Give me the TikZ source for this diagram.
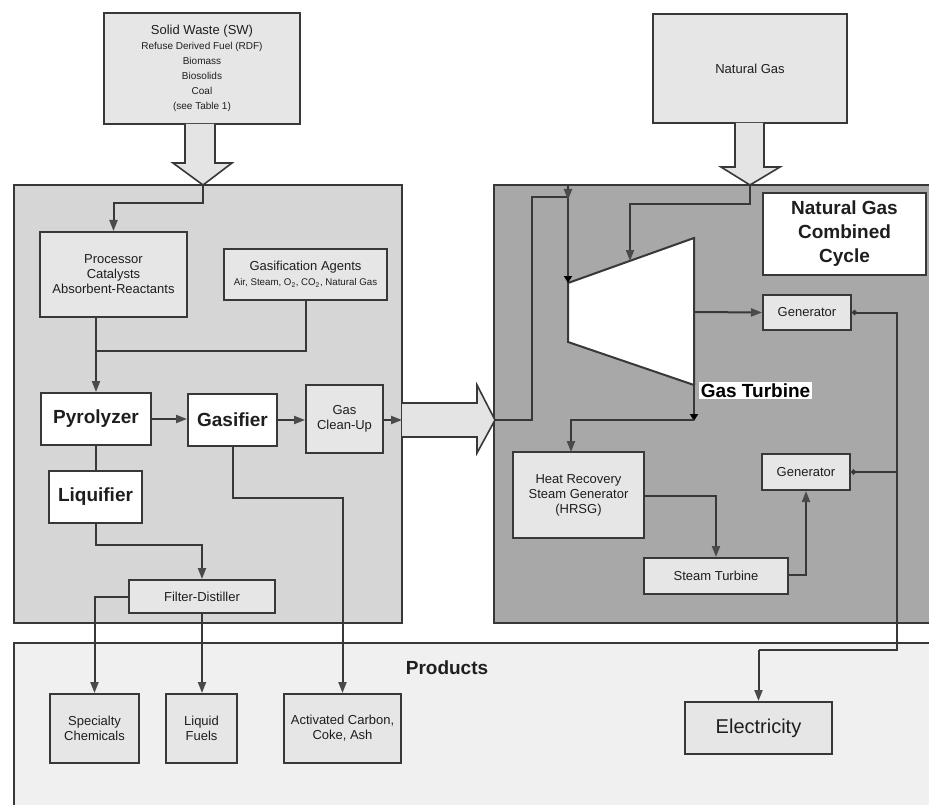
\documentclass[tikz,border=0pt]{standalone}
\usepackage{fontspec}
\setmainfont{Liberation Sans}
\usetikzlibrary{arrows.meta}
\definecolor{linec}{HTML}{383838}
\definecolor{tipc}{HTML}{4A4A4A}
\definecolor{boxfill}{HTML}{E6E6E6}
\definecolor{leftfill}{HTML}{D6D6D6}
\definecolor{ngccfill}{HTML}{A8A8A8}
\definecolor{prodfill}{HTML}{F0F0F0}
\definecolor{hollowfill}{HTML}{E4E4E4}
\definecolor{txt}{HTML}{1E1E1E}
\begin{document}
\begin{tikzpicture}[x=1pt,y=-1pt,
  area/.style={draw=linec, line width=2pt},
  box/.style={draw=linec, line width=2pt, fill=boxfill, align=center, inner sep=1pt, text=txt,
    font=\fontsize{13}{15}\selectfont},
  wbox/.style={box, fill=white, font=\fontsize{19}{22}\selectfont\bfseries},
  plainline/.style={draw=linec, line width=2pt},
  conn/.style={plainline, -{Triangle[length=11pt,width=8pt,color=tipc]}},
  bconn/.style={plainline, -{Triangle[length=7pt,width=8pt,color=black]}},
  hollow/.style={draw=linec, line width=1.6pt, fill=hollowfill, line join=miter},
  gconn/.style={plainline, {Circle[open,length=5pt,width=5pt]}-},
]
\useasboundingbox (0,0) rectangle (929,805);
\clip (0,0) rectangle (929,805);
\fill[white] (0,0) rectangle (929,805);

% large areas
\node[area, fill=leftfill, minimum width=388pt, minimum height=438pt, inner sep=0pt] (left) at (208,404) {};
\node[area, fill=ngccfill, minimum width=446pt, minimum height=438pt, inner sep=0pt] (ngcc) at (717,404) {};
\node[area, fill=prodfill, minimum width=927pt, minimum height=180pt, inner sep=0pt] (prod) at (477.5,733) {};

% input boxes
\node[box, minimum width=196pt, minimum height=111pt] (sw) at (202,68.5)
  {{\fontsize{13}{14.5}\selectfont Solid Waste (SW)}\\
   {\fontsize{10}{13.5}\selectfont Refuse Derived Fuel (RDF)}\\
   {\fontsize{10}{13.5}\selectfont Biomass}\\
   {\fontsize{10}{13.5}\selectfont Biosolids}\\
   {\fontsize{10}{13.5}\selectfont Coal}\\
   {\fontsize{10}{13.5}\selectfont (see Table 1)}};
\node[box, minimum width=194pt, minimum height=109pt] (ng) at (750,68.5) {Natural Gas};

% hollow arrows
\draw[hollow] (185,124) -- (185,163) -- (173,163) -- (203,185) -- (232,163) -- (215,163) -- (215,124);
\coordinate (swtip) at (203,185);
\draw[hollow] (735,123) -- (735,167) -- (721,167) -- (750,185) -- (780,167) -- (764,167) -- (764,123);
\coordinate (ngtip) at (750,185);
\draw[hollow] (402,403) -- (477,403) -- (477,385) -- (495,420) -- (477,453) -- (477,437) -- (402,437);
\coordinate (bigtail) at (402,420);
\coordinate (bigtip) at (495,420);

% left process boxes
\node[box, minimum width=147pt, minimum height=85pt] (proc) at (113.5,274.5)
  {Processor\\Catalysts\\Absorbent-Reactants};
\node[box, minimum width=163pt, minimum height=51pt] (agents) at (305.5,274.5)
  {Gasification Agents\\{\fontsize{9.7}{12}\selectfont Air, Steam, O\textsubscript{2}, CO\textsubscript{2}, Natural Gas}};
\node[wbox, minimum width=110pt, minimum height=52pt] (pyro) at (96,419) {Pyrolyzer};
\node[wbox, minimum width=89pt, minimum height=52pt] (gasif) at (232.5,420) {Gasifier};
\node[box, minimum width=77pt, minimum height=68pt] (clean) at (344.5,419) {Gas\\Clean-Up};
\node[wbox, minimum width=93pt, minimum height=52pt] (liq) at (95.5,497) {Liquifier};
\node[box, minimum width=146pt, minimum height=33pt] (filt) at (202,596.5) {Filter-Distiller};

% products
\node[font=\fontsize{19}{21}\selectfont\bfseries, text=txt] (prodlabel) at (447,668) {Products};
\node[box, minimum width=89pt, minimum height=69pt] (spec) at (94.5,728.5) {Specialty\\Chemicals};
\node[box, minimum width=71pt, minimum height=69pt] (fuels) at (201.5,728.5) {Liquid\\Fuels};
\node[box, minimum width=117pt, minimum height=69pt] (carbon) at (342.5,728.5) {Activated Carbon,\\Coke, Ash};
\node[box, minimum width=147pt, minimum height=52pt, font=\fontsize{20}{22}\selectfont] (elec) at (758.5,728) {Electricity};

% NGCC content
\node[wbox, minimum width=163pt, minimum height=82pt, font=\fontsize{19}{24}\selectfont\bfseries] (ngcclabel) at (844.5,234)
  {Natural Gas\\Combined\\Cycle};
\draw[draw=linec, line width=2pt, fill=white, line join=miter]
  (568,283) coordinate (tin) -- (694,238) coordinate (ttr) -- (694,385) coordinate (tout) -- (568,342) -- cycle;
\coordinate (tngin) at (630,261);
\coordinate (tshaft) at (694,312);
\node[fill=white, inner sep=2pt, font=\fontsize{19}{21}\selectfont\bfseries, text=black] (gtlabel) at (755.5,390.5) {Gas Turbine};
\node[box, minimum width=88pt, minimum height=35pt] (gen1) at (807,312.5) {Generator};
\node[box, minimum width=88pt, minimum height=36pt] (gen2) at (806,472) {Generator};
\node[box, minimum width=131pt, minimum height=86pt] (hrsg) at (578.5,495)
  {Heat Recovery\\Steam Generator\\(HRSG)};
\node[box, minimum width=144pt, minimum height=36pt] (steam) at (716,576) {Steam Turbine};

% connectors: left side
\draw[conn] (swtip) -- ++(0,18) -| (proc.north);
\draw[conn] (proc.south -| pyro.north) -- (pyro.north);
\draw[plainline] (agents.south) |- (96,351);
\draw[conn] (pyro.east) -- (gasif.west |- pyro.east);
\draw[conn] (gasif.east) -- (clean.west |- gasif.east);
\draw[conn] (clean.east |- bigtail) -- (bigtail);
\draw[plainline] (pyro.south) -- (liq.north -| pyro.south);
\draw[conn] (liq.south) -- ++(0,21) -| (filt.north);
\draw[conn] (filt.west) -| (spec.north);
\draw[conn] (filt.south) -- (fuels.north -| filt.south);
\draw[conn] (gasif.south) -- ++(0,51) -| (carbon.north);

% connectors: NGCC
\draw[bconn] (bigtip) -- (532,420) -- (532,197) -- (568,197) -- (tin);
\draw[conn] (568,186) -- (568,200);
\draw[conn] (ngtip) -- (750,204) -- (630,204) -- (tngin);
\draw[conn] (tshaft) -- (gen1.west);
\draw[bconn] (tout) -- (694,421);
\draw[conn] (694,420) -- (571,420) -- (571,452);
\draw[conn] (hrsg.east |- 0,496) -- (716,496) -- (steam.north);
\draw[conn] (steam.east |- 0,575) -- (806,575) -- (gen2.south);
\draw[gconn] (gen1.east) -- (897,312.5) -- (897,650) -- (758.5,650) coordinate (elbend);
\draw[conn] (elbend) -- (elec.north);
\draw[gconn] (gen2.east) -- (897,472);
\end{tikzpicture}
\end{document}
